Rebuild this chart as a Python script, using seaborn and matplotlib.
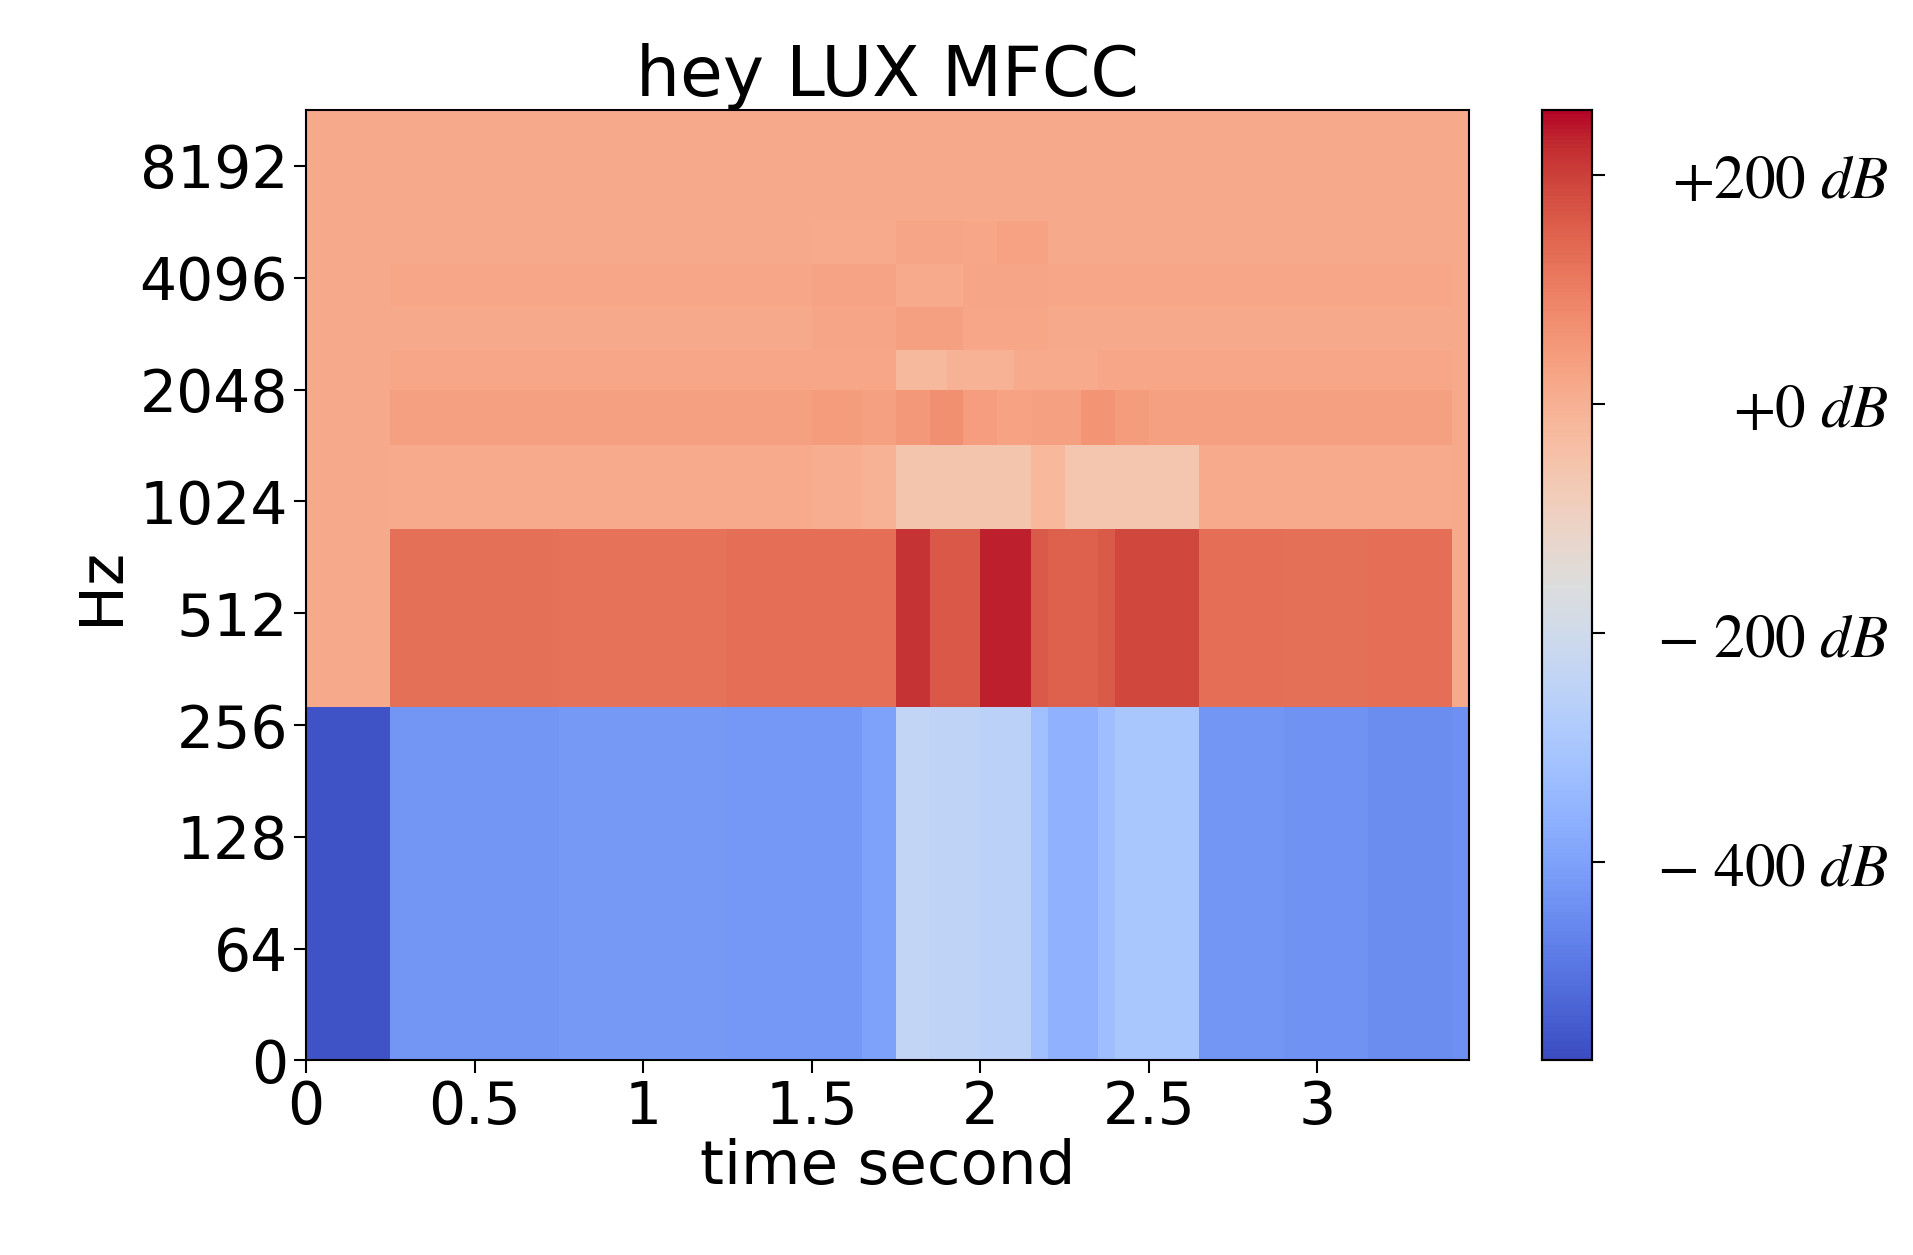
import matplotlib
matplotlib.use("Agg")
import matplotlib.pyplot as plt
import numpy as np
import seaborn as sns

# time frames of 0.05 s; values in dB given as (value, n_frames) runs per band
FRAME_SEC = 0.05
N_FRAMES = 69

# bands from bottom (coefficient 0) to top; heights in relative units
BAND_HEIGHTS = [287, 145, 68, 45, 32, 35, 35, 35, 35, 55]
BAND_RUNS = [
    [(-560, 5), (-425, 10), (-418, 10), (-422, 8), (-400, 2), (-235, 2), (-245, 3), (-255, 3),
     (-320, 1), (-360, 3), (-325, 1), (-295, 5), (-425, 5), (-435, 5), (-445, 5), (-440, 1)],
    [(15, 5), (125, 10), (122, 10), (128, 10), (215, 2), (165, 3), (235, 3), (160, 1),
     (150, 3), (160, 1), (190, 5), (128, 5), (125, 5), (128, 5), (15, 1)],
    [(15, 5), (12, 25), (5, 3), (-5, 2), (-55, 8), (-20, 2), (-60, 8), (12, 15), (15, 1)],
    [(15, 5), (35, 25), (45, 3), (35, 2), (50, 2), (70, 2), (40, 2), (30, 2), (35, 3), (60, 2),
     (45, 2), (35, 18), (15, 1)],
    [(15, 5), (22, 25), (20, 5), (-25, 3), (-5, 4), (10, 5), (22, 21), (15, 1)],
    [(15, 5), (15, 25), (25, 5), (35, 4), (20, 5), (15, 24), (15, 1)],
    [(15, 5), (20, 25), (28, 5), (10, 4), (25, 5), (20, 24), (15, 1)],
    [(15, 5), (15, 25), (10, 5), (25, 4), (20, 2), (30, 3), (15, 24), (15, 1)],
    [(15, 5), (15, 64)],
    [(15, 5), (15, 64)],
]

Y_TICK_LABELS = ["0", "64", "128", "256", "512", "1024", "2048", "4096", "8192"]
X_TICKS = [0, 0.5, 1, 1.5, 2, 2.5, 3]
CB_TICKS = [200, 0, -200, -400]
VMIN, VMAX = -573, 256


def expand(runs):
    vals = []
    for v, n in runs:
        vals += [v] * n
    return vals


rows = [expand(r) for r in BAND_RUNS]
grid = np.repeat(np.array(rows, dtype=float), BAND_HEIGHTS, axis=0)[::-1]
total = grid.shape[0]

plt.rcParams["mathtext.fontset"] = "stix"
fig = plt.figure(figsize=(19.13, 12.55), dpi=100)
ax = fig.add_axes([0.160, 0.155, 0.608, 0.757])
cax = fig.add_axes([0.806, 0.155, 0.026, 0.757])

sns.heatmap(grid, ax=ax, cbar_ax=cax, cmap="coolwarm", vmin=VMIN, vmax=VMAX,
            xticklabels=False, yticklabels=False, rasterized=True)

ax.set_xticks([t / FRAME_SEC for t in X_TICKS])
ax.set_xticklabels([f"{t:g}" for t in X_TICKS], fontsize=42)
ypos = [total * (1 - i * 0.1177) for i in range(len(Y_TICK_LABELS))]
ax.set_yticks(ypos)
ax.set_yticklabels(Y_TICK_LABELS, fontsize=42, rotation=0)
ax.tick_params(length=9, width=1.5, pad=4)
for s in ax.spines.values():
    s.set_visible(True)
    s.set_linewidth(1.5)
ax.set_xlabel("time second", fontsize=44, labelpad=2)
ax.set_ylabel("Hz", fontsize=44, labelpad=6)
ax.set_title("hey LUX MFCC", fontsize=50, pad=10)

cax.set_yticks(CB_TICKS)
cax.set_yticklabels([f"$+{v}\\ dB$" if v >= 0 else f"$-\\ {-v}\\ dB$" for v in CB_TICKS],
                    fontsize=44, ha="right")
cax.tick_params(length=9, width=1.5, pad=205)
for s in cax.spines.values():
    s.set_visible(True)
    s.set_linewidth(1.5)

fig.savefig("out.png", dpi=100)
